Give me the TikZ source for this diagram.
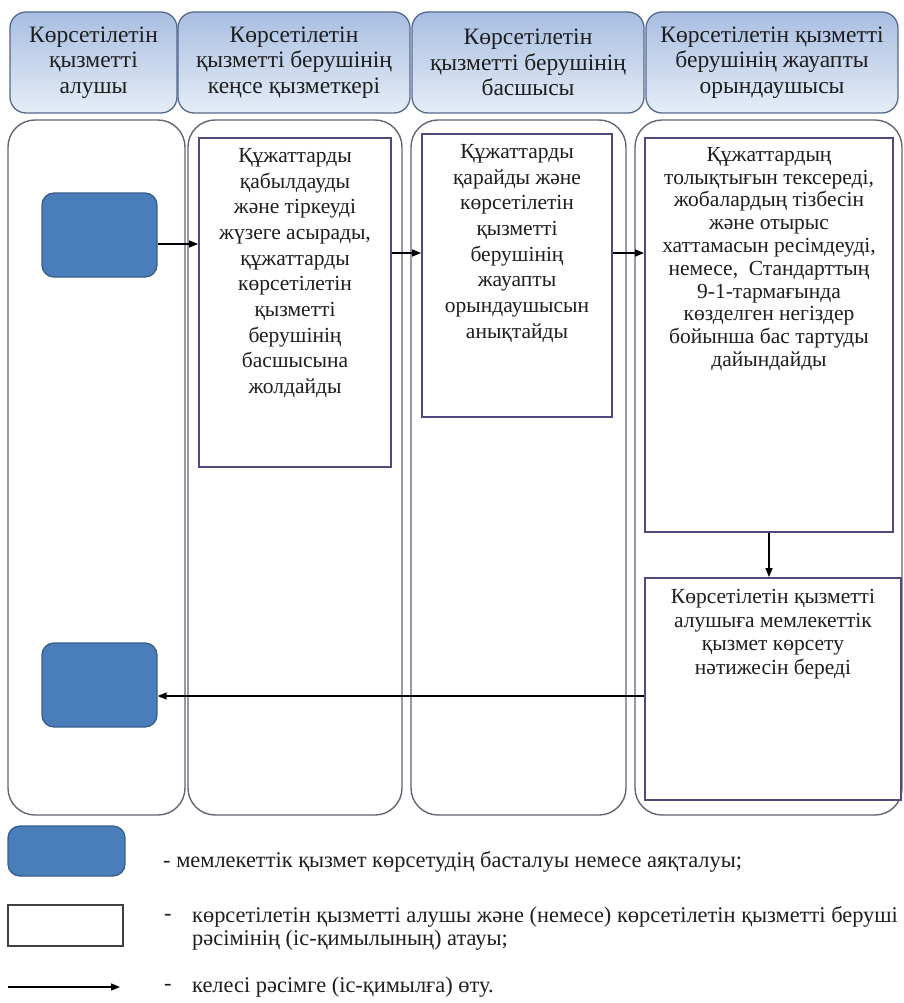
\documentclass[tikz,border=0pt]{standalone}
\usepackage{fontspec}
\setmainfont{Liberation Serif}
\usetikzlibrary{arrows.meta,positioning}
\definecolor{headtop}{RGB}{168,190,225}
\definecolor{headbot}{RGB}{230,237,247}
\definecolor{headline}{RGB}{84,104,140}
\definecolor{laneline}{RGB}{96,102,114}
\definecolor{boxline}{RGB}{76,74,126}
\definecolor{startfill}{RGB}{74,126,187}
\definecolor{startline}{RGB}{56,93,138}
\definecolor{ink}{RGB}{30,30,30}

\begin{document}
\begin{tikzpicture}[x=1pt,y=-1pt,
  head/.style={draw=headline,line width=1.3pt,rounded corners=16pt,top color=headtop,bottom color=headbot,align=center,inner sep=0pt,font=\fontsize{23.5}{25.5}\selectfont,text=ink},
  lane/.style={draw=laneline,line width=1.4pt,rounded corners=27pt},
  stepbox/.style={draw=boxline,line width=1.8pt,fill=white,inner sep=0pt},
  steptext/.style={align=center,font=\fontsize{21.5}{25.7}\selectfont,text=ink,inner sep=0pt},
  endbox/.style={draw=startline,line width=1.3pt,fill=startfill,rounded corners=12pt,inner sep=0pt},
  arr/.style={-{Triangle[length=9pt,width=7pt]},line width=1.3pt,black},
  legend/.style={anchor=west,font=\fontsize{22.4}{23}\selectfont,text=ink,inner sep=0pt,align=left}]
\useasboundingbox (0,0) rectangle (904,1003);

% swimlane headers
\node[head,minimum width=167pt,minimum height=101pt] (hA) at (93.5,62.5) {Көрсетілетін\\қызметті\\алушы};
\node[head,minimum width=232pt,minimum height=101pt] (hB) at (294,62.5) {Көрсетілетін\\қызметті берушінің\\кеңсе қызметкері};
\node[head,minimum width=232pt,minimum height=101pt] (hC) at (528,62.5) {Көрсетілетін\\қызметті берушінің\\басшысы};
\node[head,minimum width=252pt,minimum height=101pt] (hD) at (772,62.5) {Көрсетілетін қызметті\\берушінің жауапты\\орындаушысы};

% lanes
\draw[lane] (8,120) rectangle (185,815);
\draw[lane] (188,120) rectangle (402,815);
\draw[lane] (411,120) rectangle (626,815);
\draw[lane] (635,120) rectangle (902,815);

% steps
\node[stepbox,minimum width=192pt,minimum height=329pt] (s1) at (295,302.5) {};
\node[steptext,below=11pt of s1.north] (t1) {Құжаттарды\\қабылдауды\\және тіркеуді\\жүзеге асырады,\\құжаттарды\\көрсетілетін\\қызметті\\берушінің\\басшысына\\жолдайды};
\node[stepbox,minimum width=190pt,minimum height=283pt] (s2) at (517,275.5) {};
\node[steptext,below=11pt of s2.north] (t2) {Құжаттарды\\қарайды және\\көрсетілетін\\қызметті\\берушінің\\жауапты\\орындаушысын\\анықтайды};
\node[stepbox,minimum width=248pt,minimum height=394pt] (s3) at (769,335) {};
\node[steptext,font=\fontsize{21.5}{22.8}\selectfont,below=10pt of s3.north] (t3) {Құжаттардың\\толықтығын тексереді,\\жобалардың тізбесін\\және отырыс\\хаттамасын ресімдеуді,\\немесе,\ \ Стандарттың\\9-1-тармағында\\көзделген негіздер\\бойынша бас тартуды\\дайындайды};
\node[stepbox,minimum width=256pt,minimum height=222pt] (s4) at (773,689) {};
\node[steptext,font=\fontsize{21.5}{23.5}\selectfont,below=12pt of s4.north] (t4) {Көрсетілетін қызметті\\алушыға мемлекеттік\\қызмет көрсету\\нәтижесін береді};

% start and end
\node[endbox,minimum width=115pt,minimum height=84pt] (b1) at (99.5,235) {};
\node[endbox,minimum width=115pt,minimum height=84pt] (b2) at (99.5,685) {};

% connectors
\coordinate (r0) at (0,244);
\coordinate (r1) at (0,253);
\coordinate (r2) at (0,696);
\draw[arr] (b1.east |- r0) -- (s1.west |- r0);
\draw[arr] (s1.east |- r1) -- (s2.west |- r1);
\draw[arr] (s2.east |- r1) -- (s3.west |- r1);
\draw[arr] (s3.south) -- (s3.south |- s4.north);
\draw[arr] (s4.west |- r2) -- (b2.east |- r2);

% legend
\node[endbox,minimum width=117pt,minimum height=50pt] (lb) at (66.5,851) {};
\node[draw=black!75,line width=1.3pt,fill=white,minimum width=115pt,minimum height=41pt,inner sep=0pt] (lw) at (65.5,925.5) {};
\coordinate (la1) at (8,987);
\coordinate (la2) at (120,987);
\draw[arr] (la1) -- (la2);
\node[legend] (k1) at (163,862) {- мемлекеттік қызмет көрсетудің басталуы немесе аяқталуы;};
\node[legend] (d2) at (164,917) {-};
\node[legend] (k2) at (192,928.5) {көрсетілетін қызметті алушы және (немесе) көрсетілетін қызметті беруші\\рәсімінің (іс-қимылының) атауы;};
\node[legend] (d3) at (164,987) {-};
\node[legend] (k3) at (192,987) {келесі рәсімге (іс-қимылға) өту.};
\end{tikzpicture}
\end{document}
